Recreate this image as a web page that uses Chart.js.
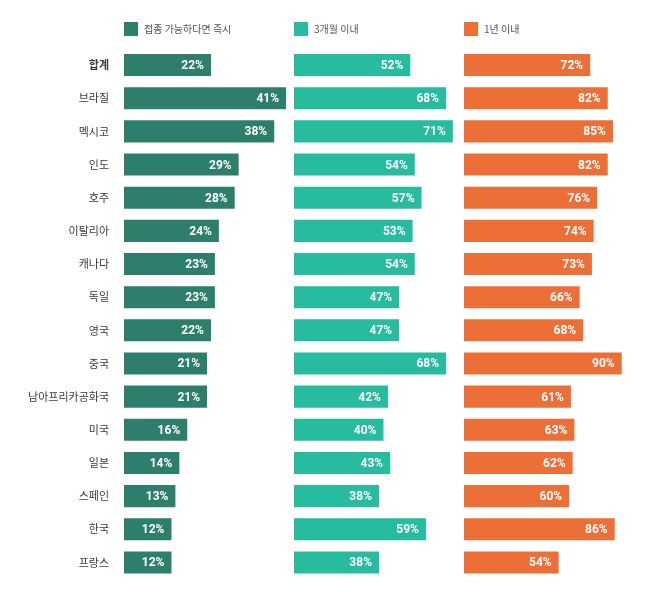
<!DOCTYPE html>
<html>
<head>
<meta charset="utf-8">
<script src="https://cdn.jsdelivr.net/npm/chart.js@4/dist/chart.umd.min.js"></script>
<style>
  html, body { margin: 0; padding: 0; background: #fff; }
  #wrap { position: relative; width: 669px; height: 592px; }
  .panel { position: absolute; top: 0; height: 592px; }
</style>
</head>
<body>
<div id="wrap">
  <div class="panel" style="left:0;width:294px"><canvas id="c1"></canvas></div>
  <div class="panel" style="left:294px;width:170px"><canvas id="c2"></canvas></div>
  <div class="panel" style="left:464px;width:170px"><canvas id="c3"></canvas></div>
</div>
<script>
// -----------------------
// Data
// -----------------------
const categories = ['합계', '브라질', '멕시코', '인도', '호주', '이탈리아', '캐나다', '독일', '영국', '중국', '남아프리카공화국', '미국', '일본', '스페인', '한국', '프랑스'];
const seriesNames = ['접종 가능하다면 즉시', '3개월 이내', '1년 이내'];
const immediate = [22, 41, 38, 29, 28, 24, 23, 23, 22, 21, 21, 16, 14, 13, 12, 12];
const within3m = [52, 68, 71, 54, 57, 53, 54, 47, 47, 68, 42, 40, 43, 38, 59, 38];
const within1y = [72, 82, 85, 82, 76, 74, 73, 66, 68, 90, 61, 63, 62, 60, 86, 54];

const colors = ['#2d7f6b', '#26bc9d', '#eb6f37'];

// -----------------------
// Plugins: value labels + top legend
// -----------------------
const valueLabels = {
  id: 'valueLabels',
  afterDatasetsDraw(chart) {
    const ctx = chart.ctx;
    const meta = chart.getDatasetMeta(0);
    const data = chart.data.datasets[0].data;
    ctx.save();
    ctx.fillStyle = '#fff';
    ctx.font = 'bold 12px Roboto, "Noto Sans", sans-serif';
    ctx.textAlign = 'right';
    ctx.textBaseline = 'middle';
    meta.data.forEach((bar, i) => {
      ctx.fillText(data[i] + '%', bar.x - 7, bar.y + 1);
    });
    ctx.restore();
  }
};

const topLegend = {
  id: 'topLegend',
  afterDraw(chart) {
    const ctx = chart.ctx;
    const ds = chart.data.datasets[0];
    const x = chart.chartArea.left;
    const y = 22;
    ctx.save();
    ctx.fillStyle = ds.backgroundColor;
    ctx.fillRect(x, y, 14, 14);
    ctx.fillStyle = '#555';
    ctx.font = '10px "Noto Sans CJK KR", sans-serif';
    ctx.textAlign = 'left';
    ctx.textBaseline = 'middle';
    ctx.fillText(ds.label, x + 20, y + 7.5);
    ctx.restore();
  }
};

// -----------------------
// Charts
// -----------------------
function makeChart(id, label, values, color, max, showLabels) {
  return new Chart(document.getElementById(id), {
    type: 'bar',
    data: {
      labels: categories,
      datasets: [{
        label: label,
        data: values,
        backgroundColor: color,
        borderWidth: 0,
        barPercentage: 0.665,
        categoryPercentage: 1
      }]
    },
    options: {
      indexAxis: 'y',
      responsive: true,
      maintainAspectRatio: false,
      animation: false,
      layout: { padding: { top: 48.5, bottom: 13, left: 0, right: 0 } },
      plugins: { legend: { display: false }, tooltip: { enabled: false } },
      scales: {
        x: { display: false, min: 0, max: max },
        y: {
          display: showLabels,
          grid: { display: false, drawTicks: false },
          border: { display: false },
          afterFit: s => {
            if (!showLabels) return;
            s.width = 124;
            s.paddingTop = 0;
            s.paddingBottom = 0;
          },
          ticks: {
            padding: 15,
            color: '#3a3a3a',
            font: c => ({
              family: '"Noto Sans CJK KR", sans-serif',
              size: 11,
              weight: c.index === 0 ? 'bold' : 'normal'
            })
          }
        }
      }
    },
    plugins: [valueLabels, topLegend]
  });
}

makeChart('c1', seriesNames[0], immediate, colors[0], 43, true);
makeChart('c2', seriesNames[1], within3m, colors[1], 76, false);
makeChart('c3', seriesNames[2], within1y, colors[2], 97, false);
</script>
</body>
</html>
